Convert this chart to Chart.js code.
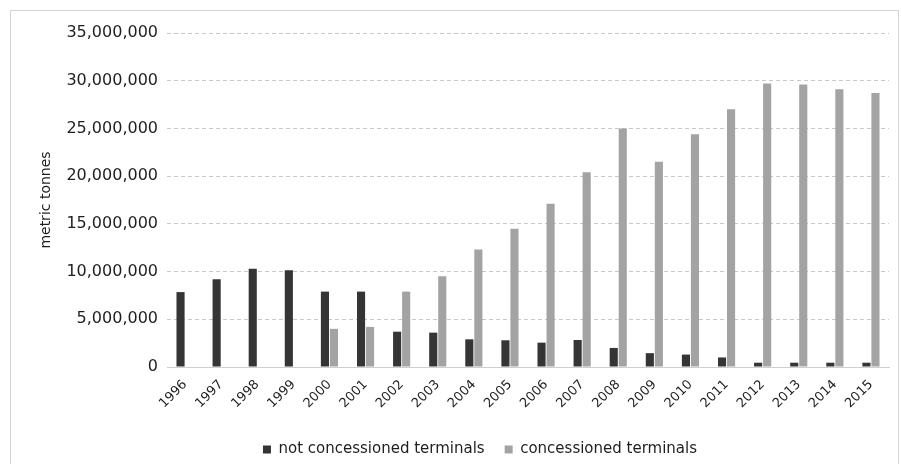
<!DOCTYPE html>
<html>
<head>
<meta charset="utf-8">
<script src="https://cdn.jsdelivr.net/npm/chart.js@4"></script>
<style>
    body { margin: 0; background: #fff; overflow: hidden; }
    #box { position: absolute; left: 10px; top: 10px; width: 889px; height: 470px; border: 1px solid #d4d4d4; box-sizing: border-box; }
    #box canvas { position: absolute; left: 0; top: 0; }
</style>
</head>
<body>
<div id="box"><canvas id="chart" width="887" height="470"></canvas></div>
<script>
const years = ['1996', '1997', '1998', '1999', '2000', '2001', '2002', '2003', '2004', '2005',
    '2006', '2007', '2008', '2009', '2010', '2011', '2012', '2013', '2014', '2015'];
const notConcessioned = [7850000, 9200000, 10300000, 10150000, 7900000, 7900000, 3700000, 3600000, 2900000, 2800000,
    2550000, 2830000, 2000000, 1450000, 1300000, 1000000, 450000, 450000, 450000, 450000];
const concessioned = [50000, 50000, 50000, 50000, 4000000, 4200000, 7900000, 9500000, 12300000, 14500000,
    17100000, 20400000, 25000000, 21500000, 24400000, 27000000, 29700000, 29600000, 29100000, 28700000];
const yTicks = [0, 5000000, 10000000, 15000000, 20000000, 25000000, 30000000, 35000000];

Chart.defaults.font.family = '"DejaVu Sans", "Liberation Sans", Arial, sans-serif';
Chart.defaults.color = '#1e1e1e';

// legend sits a bit right of centre in the original
const shiftLegend = {
    id: 'shiftLegend',
    afterLayout(chart) {
        chart.legend.left += 30;
        chart.legend.right += 30;
    }
};

new Chart(document.getElementById('chart'), {
    type: 'bar',
    data: {
        labels: years,
        datasets: [
            { label: 'not concessioned terminals', data: notConcessioned, backgroundColor: '#353535' },
            { label: 'concessioned terminals', data: concessioned, backgroundColor: '#a3a3a3' }
        ]
    },
    options: {
        responsive: false,
        animation: false,
        categoryPercentage: 0.5,
        barPercentage: 0.9,
        layout: { padding: { top: 22, right: 9, bottom: 14, left: 0 } },
        plugins: {
            legend: {
                position: 'bottom',
                labels: { boxWidth: 8, boxHeight: 8, padding: 20, font: { size: 15 } }
            },
            tooltip: { enabled: false }
        },
        scales: {
            x: {
                grid: { display: false },
                border: { display: true, color: '#cfcfcf' },
                ticks: { minRotation: 45, maxRotation: 45, font: { size: 13 }, padding: 2 },
                afterFit: scale => { scale.height = 55; }
            },
            y: {
                min: 0,
                max: 35000000,
                afterBuildTicks: scale => { scale.ticks = yTicks.map(v => ({ value: v })); },
                grid: { color: '#c8c8c8', drawTicks: false },
                border: { display: false, dash: [4, 3] },
                ticks: {
                    padding: 9,
                    font: { size: 16 },
                    callback: v => v.toLocaleString('en-US')
                },
                title: { display: true, text: 'metric tonnes', font: { size: 14 }, padding: { top: 27, bottom: 0 } },
                afterFit: scale => { scale.width = 156; }
            }
        }
    },
    plugins: [shiftLegend]
});
</script>
</body>
</html>
